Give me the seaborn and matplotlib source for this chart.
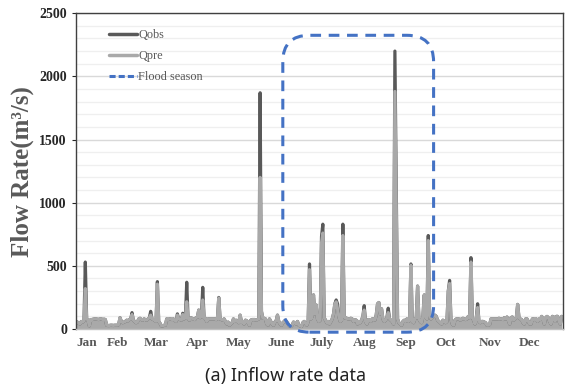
import numpy as np
import pandas as pd
import matplotlib
matplotlib.use("Agg")
import matplotlib.pyplot as plt
import seaborn as sns
from matplotlib.patches import FancyBboxPatch
from matplotlib.lines import Line2D
from matplotlib.ticker import MultipleLocator

# daily predicted inflow (m3/s), one list per month
jan = [60, 55, 45, 40, 60, 55, 65, 320, 80, 70, 25, 75, 75, 78, 80, 80, 78, 75, 80, 80, 75, 78, 75, 30, 28, 28, 30, 30, 28, 30, 30]
feb = [30, 35, 90, 60, 50, 55, 60, 70, 65, 75, 80, 115, 70, 60, 50, 55, 80, 85, 75, 70, 80, 75, 70, 80, 90, 110, 80, 75]
mar = [70, 60, 355, 60, 45, 25, 25, 30, 30, 80, 75, 80, 80, 75, 80, 70, 60, 110, 80, 75, 70, 115, 80, 90, 216, 85, 70, 90, 85, 80, 75]
apr = [90, 95, 150, 90, 100, 230, 90, 85, 60, 80, 80, 80, 80, 80, 80, 75, 80, 245, 80, 75, 70, 80, 60, 40, 55, 30, 40, 50, 80, 60]
may = [70, 60, 50, 110, 60, 60, 40, 70, 65, 50, 30, 70, 75, 75, 75, 70, 75, 80, 1200, 140, 85, 85, 80, 40, 30, 80, 60, 40, 30, 55, 65]
jun = [110, 60, 40, 30, 50, 60, 70, 55, 40, 25, 20, 30, 55, 50, 40, 60, 30, 25, 20, 50, 60, 45, 30, 60, 470, 80, 100, 270, 120, 190]
jul = [80, 60, 70, 680, 760, 90, 70, 50, 60, 40, 60, 80, 120, 200, 215, 160, 100, 60, 70, 740, 100, 85, 85, 80, 80, 85, 80, 60, 75, 70, 40]
aug = [60, 50, 70, 100, 150, 60, 40, 75, 70, 60, 80, 80, 70, 110, 200, 210, 120, 160, 80, 60, 70, 90, 130, 80, 70, 60, 40, 1880, 1000, 80, 50]
sep = [40, 30, 60, 70, 60, 80, 60, 70, 505, 60, 50, 80, 90, 340, 80, 60, 50, 100, 270, 100, 80, 700, 120, 80, 90, 100, 110, 100, 70, 60]
oct_ = [50, 40, 70, 60, 50, 60, 300, 360, 80, 40, 30, 70, 80, 80, 80, 70, 80, 85, 80, 75, 80, 100, 90, 530, 90, 70, 40, 90, 170, 60, 50]
nov = [60, 60, 55, 50, 30, 30, 35, 80, 80, 80, 80, 80, 80, 85, 80, 80, 75, 90, 80, 95, 70, 40, 90, 95, 70, 80, 90, 195, 90, 80]
dec = [75, 50, 40, 80, 80, 60, 40, 40, 80, 80, 75, 80, 60, 80, 75, 100, 80, 40, 90, 100, 90, 60, 40, 100, 95, 60, 100, 100, 60, 40, 100]

# observed inflow where it differs from the prediction (day of year -> m3/s)
obs_peaks = {7: 530, 42: 130, 56: 140, 61: 375, 76: 120, 80: 125, 83: 370, 95: 330,
             107: 250, 138: 1870, 175: 515, 184: 730, 185: 830, 195: 230, 196: 200,
             200: 830, 216: 185, 234: 165, 239: 2200, 240: 1130, 251: 515, 264: 740,
             280: 385, 296: 565, 301: 200}

month_labels = ["Jan", "Feb", "Mar", "Apr", "May", "June", "July", "Aug", "Sep", "Oct", "Nov", "Dec"]
month_ticks = [8, 31, 60, 91, 122, 154, 184, 216, 247, 277, 310, 340]

flood_start, flood_end = 155, 268

qpre = jan + feb + mar + apr + may + jun + jul + aug + sep + oct_ + nov + dec
qobs = list(qpre)
for d, v in obs_peaks.items():
    qobs[d] = v
df = pd.DataFrame({"day": np.arange(len(qpre)), "Qobs": qobs, "Qpre": qpre})

sns.set_style("white")
plt.rcParams["font.family"] = ["Liberation Serif", "DejaVu Serif"]

fig = plt.figure(figsize=(5.67, 3.88), dpi=100)
ax = fig.add_axes([0.134, 0.152, 0.859, 0.814])

ax.yaxis.set_major_locator(MultipleLocator(500))
ax.yaxis.set_minor_locator(MultipleLocator(100))
ax.grid(which="minor", axis="y", color="#efefef", lw=0.9)
ax.grid(which="major", axis="y", color="#d9d9d9", lw=1.0)
ax.set_axisbelow(True)

sns.lineplot(data=df, x="day", y="Qobs", ax=ax, color="#595959", lw=2.3, legend=False)
# the dense daily record reads as a filled band near the base
ax.fill_between(df["day"], 0, df["Qpre"], color="#a9a9a9", lw=0)
sns.lineplot(data=df, x="day", y="Qpre", ax=ax, color="#a9a9a9", lw=2.3, legend=False)

# flood season box, rounded corners scaled to the axes aspect
box = FancyBboxPatch((flood_start, -25), flood_end - flood_start, 2350,
                     boxstyle="round,pad=0,rounding_size=20", mutation_aspect=10.5,
                     fill=False, ec="#4472c4", lw=2.2, ls=(0, (3.5, 2.5)), zorder=5,
                     clip_on=False)
ax.add_patch(box)

ax.set_xlim(0, 365)
ax.set_ylim(0, 2500)
ax.set_xticks(month_ticks)
ax.set_xticklabels(month_labels)
ax.tick_params(axis="x", length=0, pad=6, labelsize=9.5, labelcolor="#595959")
ax.tick_params(axis="y", which="major", length=3, left=True, direction="out", labelsize=10)
ax.tick_params(axis="y", which="minor", length=0)
for t in ax.get_xticklabels() + ax.get_yticklabels():
    t.set_fontweight("bold")
ax.set_xlabel("")
ax.set_ylabel("Flow Rate(m³/s)", fontsize=18, fontweight="bold", color="#595959", labelpad=4)

for s in ax.spines.values():
    s.set_color("#404040")
    s.set_linewidth(1.0)
ax.spines["bottom"].set_color("#bfbfbf")

handles = [Line2D([], [], color="#595959", lw=2.5),
           Line2D([], [], color="#a9a9a9", lw=2.5),
           Line2D([], [], color="#4472c4", lw=2.2, ls=(0, (2, 1)))]
ax.legend(handles, ["Qobs", "Qpre", "Flood season"], loc="upper left",
          bbox_to_anchor=(0.045, 0.985), frameon=False, fontsize=8.8,
          handlelength=2.3, handletextpad=0.1, labelspacing=0.75, labelcolor="#595959")

fig.text(0.503, 0.032, "(a) Inflow rate data", ha="center", va="center",
         fontsize=13, family=["Noto Sans", "DejaVu Sans"], color="#222222")

fig.savefig("out.png", dpi=100)
